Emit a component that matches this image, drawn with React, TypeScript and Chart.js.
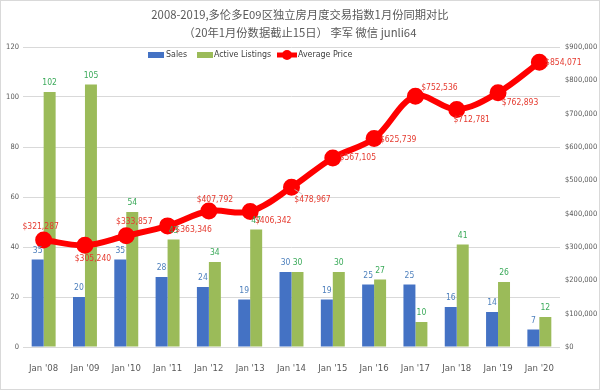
import { useEffect, useRef } from "react";
import { Chart, registerables } from "chart.js";
Chart.register(...registerables);

const categories = ["Jan '08", "Jan '09", "Jan '10", "Jan '11", "Jan '12", "Jan '13", "Jan '14", "Jan '15", "Jan '16", "Jan '17", "Jan '18", "Jan '19", "Jan '20"];
const sales = [35, 20, 35, 28, 24, 19, 30, 19, 25, 25, 16, 14, 7];
const listings = [102, 105, 54, 43, 34, 47, 30, 30, 27, 10, 41, 26, 12];
const avgPrice = [321287, 305240, 333857, 363346, 407792, 406342, 478967, 567105, 625739, 752536, 712781, 762893, 854071];
const titleLines = ["2008-2019,多伦多E09区独立房月度交易指数1月份同期对比", "（20年1月份数据截止15日） 李军 微信 junli64"];
const legendNames = ["Sales", "Active Listings", "Average Price"];

// label offsets (style) for price labels: [dx, dy] of label centre from point
const priceLabelOffsets = [[-3, -13], [8, 14], [8, -14], [26, 4], [6, -11], [23, 9], [21, 12], [25, 0], [24, 1], [24, -8], [15, 10], [22, 10], [24, 0]];

const BLUE = "#4472C4";
const GREEN = "#9BBB59";
const RED = "#FF0000";
const NARROW = "'Liberation Sans Narrow', 'DejaVu Sans Condensed', 'Liberation Sans', sans-serif";
const LBL_FONT = "8.5px " + NARROW;
const fmt = (v: number) => "$" + v.toLocaleString("en-US");

export default function App() {
  const ref = useRef<HTMLCanvasElement>(null);
  useEffect(() => {
    const labelPlugin = {
      id: "labels",
      beforeDraw(chart: any) {
        const ctx = chart.ctx;
        ctx.save();
        ctx.fillStyle = "#fff";
        ctx.fillRect(0, 0, chart.width, chart.height);
        ctx.strokeStyle = "#d9d9d9";
        ctx.lineWidth = 1;
        ctx.strokeRect(0.5, 0.5, chart.width - 1, chart.height - 3);
        ctx.fillStyle = "#595959";
        ctx.font = "11.3px 'Noto Sans CJK SC', sans-serif";
        ctx.textAlign = "center";
        ctx.textBaseline = "middle";
        ctx.fillText(titleLines[0], 300, 15);
        ctx.fillText(titleLines[1], 300, 33);
        ctx.restore();
      },
      afterDatasetsDraw(chart: any) {
        const ctx = chart.ctx;
        ctx.save();
        ctx.font = LBL_FONT;
        ctx.textAlign = "center";
        ctx.textBaseline = "middle";
        const m0 = chart.getDatasetMeta(0);
        const m1 = chart.getDatasetMeta(1);
        const m2 = chart.getDatasetMeta(2);
        m0.data.forEach((el: any, i: number) => {
          ctx.fillStyle = "#4F81BD";
          ctx.fillText(String(sales[i]), el.x, el.y - 9);
        });
        m1.data.forEach((el: any, i: number) => {
          ctx.fillStyle = "#3BAA5A";
          ctx.fillText(String(listings[i]), el.x, el.y - 9);
        });
        m2.data.forEach((el: any, i: number) => {
          const [dx, dy] = priceLabelOffsets[i];
          if (i === 6) {
            ctx.strokeStyle = "#bfbfbf";
            ctx.lineWidth = 0.8;
            ctx.beginPath();
            ctx.moveTo(el.x + 3, el.y + 2);
            ctx.lineTo(el.x + dx - 10, el.y + dy - 5);
            ctx.stroke();
          }
          ctx.fillStyle = "#E53A2F";
          ctx.fillText(fmt(avgPrice[i]), el.x + dx, el.y + dy);
        });
        // legend
        const ly = 55;
        ctx.font = "8.8px " + NARROW;
        ctx.textAlign = "left";
        ctx.fillStyle = BLUE;
        ctx.fillRect(148, ly - 3, 16, 6);
        ctx.fillStyle = "#404040";
        ctx.fillText(legendNames[0], 166, ly);
        ctx.fillStyle = GREEN;
        ctx.fillRect(197, ly - 3, 16, 6);
        ctx.fillStyle = "#404040";
        ctx.fillText(legendNames[1], 214, ly);
        ctx.strokeStyle = RED;
        ctx.lineWidth = 5;
        ctx.beginPath();
        ctx.moveTo(277, ly);
        ctx.lineTo(297, ly);
        ctx.stroke();
        ctx.fillStyle = RED;
        ctx.beginPath();
        ctx.arc(287, ly, 5, 0, Math.PI * 2);
        ctx.fill();
        ctx.fillStyle = "#404040";
        ctx.fillText(legendNames[2], 298, ly);
        ctx.restore();
      },
    };

    const chart = new Chart(ref.current!, {
      type: "bar",
      data: {
        labels: categories,
        datasets: [
          { type: "bar", label: legendNames[0], data: sales, backgroundColor: BLUE, yAxisID: "y", order: 1, categoryPercentage: 0.58, barPercentage: 1.0 },
          { type: "bar", label: legendNames[1], data: listings, backgroundColor: GREEN, yAxisID: "y", order: 1, categoryPercentage: 0.58, barPercentage: 1.0 },
          { type: "line", label: legendNames[2], data: avgPrice, borderColor: RED, backgroundColor: RED, borderWidth: 6, pointRadius: 5.5, pointBackgroundColor: RED, pointBorderColor: RED, tension: 0.35, yAxisID: "y1", order: 0 },
        ] as any,
      },
      options: {
        animation: false,
        responsive: false,
        layout: { padding: { top: 47, bottom: 0, left: 0, right: 0 } },
        plugins: { legend: { display: false }, title: { display: false }, tooltip: { enabled: false } },
        scales: {
          x: {
            grid: { display: false },
            border: { display: false },
            ticks: { color: "#595959", font: { size: 9.5, family: NARROW }, padding: 8, maxRotation: 0 },
            afterFit: (s: any) => { s.height = 45; },
          },
          y: {
            position: "left",
            min: 0,
            max: 120,
            ticks: { stepSize: 20, color: "#595959", font: { size: 7.5, family: NARROW }, padding: 4 },
            grid: { color: "#d9d9d9", drawTicks: false },
            border: { display: false },
            afterFit: (s: any) => { s.width = 23; },
          },
          y1: {
            position: "right",
            min: 0,
            max: 900000,
            ticks: { stepSize: 100000, color: "#595959", font: { size: 7.5, family: NARROW }, padding: 5, callback: (v: any) => fmt(Number(v)) },
            grid: { display: false, drawTicks: false },
            border: { display: false },
            afterFit: (s: any) => { s.width = 40; },
          },
        },
      } as any,
      plugins: [labelPlugin],
    });
    return () => chart.destroy();
  }, []);
  return (
    <div style={{ position: "absolute", left: 0, top: 0, width: 600, height: 392, background: "#fff" }}>
      <canvas ref={ref} width={600} height={392} style={{ width: 600, height: 392, display: "block" }} />
    </div>
  );
}
